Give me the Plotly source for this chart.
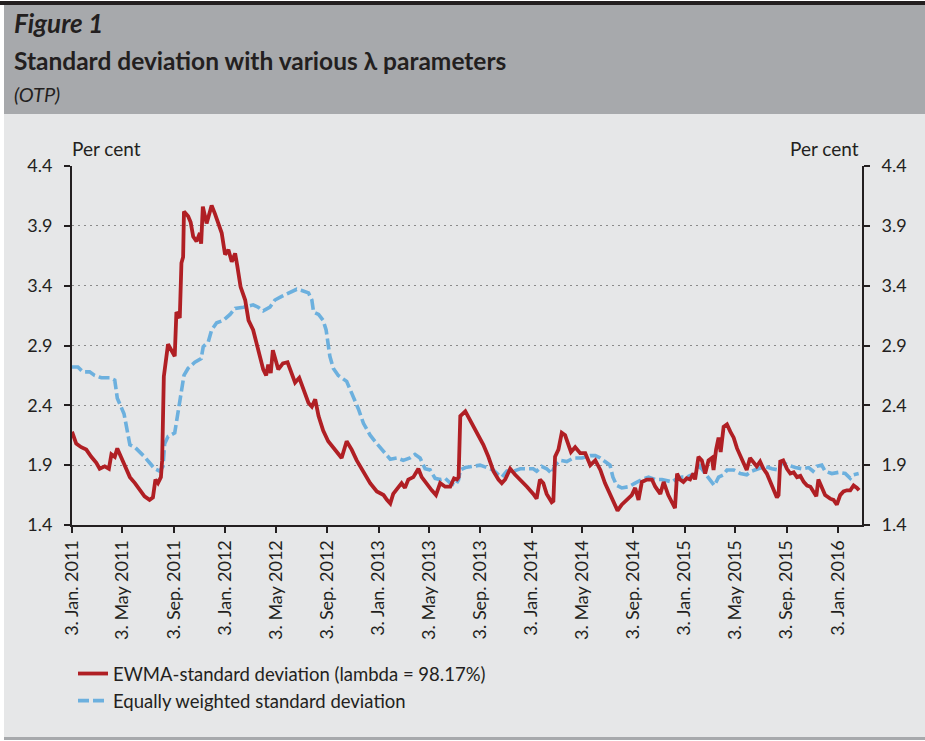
import pandas as pd
import plotly.graph_objects as go

# ---------------- data ----------------
start_date = "2011-01-03"

# EWMA standard deviation (days since 3 Jan 2011, per cent)
ewma_days = [0, 10, 22, 34, 46, 58, 66, 78, 88, 94,
             102, 108, 118, 130, 138, 150, 162, 173, 185, 193,
             199, 205, 212, 215, 219, 225, 229, 237, 245, 249,
             257, 261, 265, 267, 277, 283, 289, 297, 305, 308,
             312, 321, 333, 341, 349, 357, 365, 373, 381, 389,
             394, 402, 413, 421, 432, 444, 456, 463, 468, 474,
             479, 492, 503, 514, 522, 532, 542, 552, 564, 572,
             580, 588, 599, 611, 623, 635, 643, 655, 667, 679,
             695, 711, 727, 743, 751, 759, 766, 778, 786, 794,
             802, 814, 826, 834, 842, 850, 858, 868, 878, 890,
             902, 911, 918, 922, 926, 938, 949, 965, 981, 993,
             1005, 1017, 1025, 1033, 1045, 1057, 1069, 1085, 1100, 1108,
             1116, 1124, 1132, 1144, 1148, 1152, 1160, 1168, 1176, 1184,
             1190, 1200, 1212, 1224, 1236, 1248, 1260, 1271, 1283, 1293,
             1301, 1311, 1323, 1335, 1343, 1351, 1359, 1371, 1383, 1391,
             1403, 1411, 1422, 1433, 1438, 1443, 1450, 1458, 1466, 1474,
             1482, 1486, 1494, 1502, 1510, 1518, 1526, 1530, 1536, 1542,
             1547, 1554, 1562, 1570, 1578, 1586, 1594, 1601, 1609, 1617,
             1625, 1633, 1641, 1649, 1657, 1665, 1673, 1681, 1685, 1689,
             1696, 1705, 1713, 1721, 1729, 1737, 1745, 1753, 1761, 1769,
             1775, 1780, 1788, 1796, 1808, 1816, 1824, 1832, 1840, 1848,
             1856, 1864, 1872, 1877]
ewma_vals = [2.18, 2.08, 2.05, 2.03, 1.97, 1.92, 1.87, 1.89, 1.87, 1.99,
             1.97, 2.04, 1.96, 1.87, 1.80, 1.75, 1.69, 1.64, 1.61, 1.63,
             1.78, 1.75, 1.80, 1.94, 2.64, 2.83, 2.91, 2.86, 2.81, 3.18,
             3.13, 3.59, 3.64, 4.02, 3.98, 3.93, 3.81, 3.77, 3.84, 3.75,
             4.06, 3.92, 4.07, 4.00, 3.93, 3.84, 3.66, 3.70, 3.60, 3.67,
             3.57, 3.39, 3.28, 3.11, 3.03, 2.86, 2.70, 2.65, 2.74, 2.67,
             2.86, 2.70, 2.75, 2.76, 2.68, 2.59, 2.63, 2.53, 2.42, 2.39,
             2.45, 2.31, 2.19, 2.10, 2.05, 1.99, 1.96, 2.10, 2.03, 1.94,
             1.85, 1.75, 1.68, 1.65, 1.61, 1.58, 1.66, 1.71, 1.75, 1.71,
             1.78, 1.80, 1.87, 1.80, 1.76, 1.72, 1.69, 1.65, 1.75, 1.72,
             1.72, 1.79, 1.78, 1.80, 2.31, 2.35, 2.28, 2.18, 2.07, 1.97,
             1.85, 1.78, 1.75, 1.78, 1.87, 1.82, 1.78, 1.72, 1.66, 1.62,
             1.78, 1.75, 1.66, 1.59, 1.60, 1.97, 2.03, 2.17, 2.15, 2.07,
             2.01, 2.05, 2.00, 2.00, 1.90, 1.94, 1.86, 1.75, 1.66, 1.58,
             1.52, 1.57, 1.61, 1.65, 1.71, 1.61, 1.76, 1.78, 1.78, 1.72,
             1.66, 1.76, 1.65, 1.57, 1.54, 1.83, 1.78, 1.76, 1.79, 1.78,
             1.83, 1.78, 1.97, 1.94, 1.83, 1.94, 1.96, 1.86, 2.03, 2.13,
             2.01, 2.22, 2.24, 2.18, 2.13, 2.04, 1.97, 1.92, 1.86, 1.96,
             1.93, 1.89, 1.93, 1.87, 1.83, 1.76, 1.68, 1.63, 1.65, 1.93,
             1.94, 1.87, 1.83, 1.84, 1.80, 1.81, 1.76, 1.73, 1.72, 1.68,
             1.64, 1.78, 1.71, 1.65, 1.62, 1.61, 1.57, 1.65, 1.68, 1.69,
             1.69, 1.73, 1.71, 1.69]

# Equally weighted standard deviation
eq_days = [0, 14, 26, 42, 54, 70, 90, 102, 108, 118,
           124, 130, 135, 138, 150, 162, 173, 185, 197, 209,
           217, 221, 229, 245, 251, 257, 262, 267, 277, 293,
           308, 313, 325, 333, 345, 361, 377, 389, 409, 432,
           444, 456, 472, 484, 500, 516, 536, 548, 564, 572,
           576, 588, 599, 606, 611, 615, 623, 635, 655, 671,
           683, 695, 711, 727, 743, 759, 775, 790, 806, 818,
           830, 842, 854, 866, 878, 890, 902, 914, 922, 926,
           938, 954, 973, 989, 1005, 1017, 1025, 1037, 1053, 1069,
           1085, 1100, 1108, 1120, 1132, 1144, 1152, 1164, 1180, 1196,
           1216, 1236, 1248, 1260, 1271, 1283, 1290, 1299, 1311, 1327,
           1343, 1359, 1375, 1391, 1407, 1419, 1431, 1443, 1455, 1466,
           1478, 1486, 1494, 1498, 1510, 1522, 1532, 1542, 1554, 1562,
           1578, 1594, 1609, 1621, 1637, 1653, 1669, 1685, 1693, 1709,
           1725, 1741, 1757, 1767, 1776, 1788, 1796, 1812, 1828, 1844,
           1856, 1864, 1876]
eq_vals = [2.72, 2.72, 2.68, 2.68, 2.65, 2.63, 2.63, 2.61, 2.46, 2.38,
           2.33, 2.22, 2.14, 2.07, 2.05, 2.01, 1.97, 1.92, 1.87, 1.85,
           1.89, 2.08, 2.14, 2.17, 2.31, 2.42, 2.53, 2.65, 2.71, 2.76,
           2.79, 2.89, 2.93, 3.03, 3.09, 3.11, 3.16, 3.21, 3.22, 3.24,
           3.22, 3.19, 3.22, 3.28, 3.31, 3.34, 3.37, 3.36, 3.34, 3.28,
           3.18, 3.16, 3.11, 3.03, 2.92, 2.81, 2.71, 2.65, 2.60, 2.47,
           2.37, 2.25, 2.15, 2.08, 2.01, 1.95, 1.96, 1.94, 1.96, 1.99,
           1.96, 1.87, 1.86, 1.79, 1.78, 1.79, 1.75, 1.73, 1.78, 1.86,
           1.88, 1.89, 1.90, 1.88, 1.86, 1.82, 1.80, 1.85, 1.85, 1.87,
           1.87, 1.87, 1.85, 1.89, 1.87, 1.83, 1.90, 1.94, 1.93, 1.96,
           1.96, 1.98, 1.98, 1.96, 1.93, 1.90, 1.80, 1.73, 1.71, 1.72,
           1.75, 1.78, 1.80, 1.78, 1.78, 1.77, 1.76, 1.79, 1.80, 1.80,
           1.82, 1.82, 1.86, 1.89, 1.83, 1.78, 1.73, 1.80, 1.82, 1.86,
           1.86, 1.83, 1.82, 1.85, 1.87, 1.89, 1.87, 1.86, 1.92, 1.90,
           1.88, 1.87, 1.88, 1.85, 1.89, 1.90, 1.85, 1.83, 1.84, 1.83,
           1.79, 1.82, 1.83]

tick_dates = ["2011-01-03", "2011-05-03", "2011-09-03", "2012-01-03", "2012-05-03",
              "2012-09-03", "2013-01-03", "2013-05-03", "2013-09-03", "2014-01-03",
              "2014-05-03", "2014-09-03", "2015-01-03", "2015-05-03", "2015-09-03",
              "2016-01-03"]
tick_labels = ["3. Jan. 2011", "3. May 2011", "3. Sep. 2011", "3. Jan. 2012", "3. May 2012",
               "3. Sep. 2012", "3. Jan. 2013", "3. May 2013", "3. Sep. 2013", "3. Jan. 2014",
               "3. May 2014", "3. Sep. 2014", "3. Jan. 2015", "3. May 2015", "3. Sep. 2015",
               "3. Jan. 2016"]
y_ticks = [1.4, 1.9, 2.4, 2.9, 3.4, 3.9, 4.4]
x_end = "2016-03-01"

series_names = ["EWMA-standard deviation (lambda = 98.17%)", "Equally weighted standard deviation"]

# ---------------- figure ----------------
W, H = 925, 741
L, R, T, B = 72, 63, 166, 216
PW, PH = W - L - R, H - T - B


def px(x):
    return (x - L) / PW


def py(y):
    return (H - B - y) / PH


t0 = pd.Timestamp(start_date)
ewma_x = t0 + pd.to_timedelta(ewma_days, unit="D")
eq_x = t0 + pd.to_timedelta(eq_days, unit="D")

RED = "#b01f24"
BLUE = "#6cb0de"
AX = "#231f20"
FONT = "Lato, Open Sans, sans-serif"

fig = go.Figure()
fig.add_trace(go.Scatter(x=eq_x, y=eq_vals, mode="lines", name=series_names[1],
                         line=dict(color=BLUE, width=3.6, dash="11px,4px"),
                         legendrank=2, yaxis="y"))
fig.add_trace(go.Scatter(x=ewma_x, y=ewma_vals, mode="lines", name=series_names[0],
                         line=dict(color=RED, width=3.8),
                         legendrank=1, yaxis="y2"))

yax_common = dict(range=[1.4, 4.4], tickvals=y_ticks, ticktext=[f"{v:.1f}" for v in y_ticks],
                  showline=True, linecolor=AX, linewidth=2, ticks="outside", ticklen=6,
                  tickwidth=2, tickcolor=AX, zeroline=False,
                  tickfont=dict(family=FONT, size=18, color="#231f20"),
                  ticklabelstandoff=8)

fig.update_layout(
    width=W, height=H,
    margin=dict(l=L, r=R, t=T, b=B),
    paper_bgcolor="white",
    plot_bgcolor="rgba(0,0,0,0)",
    showlegend=True,
    legend=dict(x=px(73), y=py(655), xanchor="left", yanchor="top",
                bgcolor="rgba(0,0,0,0)", font=dict(family=FONT, size=18.5, color="#231f20"),
                tracegroupgap=0, itemwidth=30),
    xaxis=dict(type="date", range=[start_date, x_end], tickvals=tick_dates, ticktext=tick_labels,
               tickangle=-90, showline=True, linecolor=AX, linewidth=2, ticks="outside",
               ticklen=6, tickwidth=2, tickcolor=AX, showgrid=False, zeroline=False,
               tickfont=dict(family=FONT, size=18, color="#231f20")),
    yaxis=dict(**yax_common, side="left", showgrid=True, gridcolor="#8a8a8a", gridwidth=1,
               griddash="2px,4px"),
    yaxis2=dict(**yax_common, side="right", overlaying="y", anchor="x", showgrid=False),
)

# background panels
shapes = [
    dict(type="rect", xref="paper", yref="paper", x0=px(4), x1=px(W), y0=py(114), y1=py(5),
         fillcolor="#a7a9ac", line=dict(width=0), layer="below"),
    dict(type="rect", xref="paper", yref="paper", x0=px(4), x1=px(W), y0=py(737), y1=py(114),
         fillcolor="#e6e7e8", line=dict(width=0), layer="below"),
    dict(type="rect", xref="paper", yref="paper", x0=px(0), x1=px(W), y0=py(5), y1=py(1),
         fillcolor="#231f20", line=dict(width=0), layer="below"),
    dict(type="rect", xref="paper", yref="paper", x0=px(4), x1=px(W), y0=py(740), y1=py(737),
         fillcolor="#a7a9ac", line=dict(width=0), layer="below"),
]
fig.update_layout(shapes=shapes)

ann = [
    dict(text="<b><i>Figure 1</i></b>", x=px(12), y=py(23), size=26),
    dict(text="<b>Standard deviation with various λ parameters</b>", x=px(12), y=py(60), size=24.5),
    dict(text="<i>(OTP)</i>", x=px(12), y=py(94), size=20),
]
for a in ann:
    fig.add_annotation(text=a["text"], x=a["x"], y=a["y"], xref="paper", yref="paper",
                       xanchor="left", yanchor="middle", showarrow=False,
                       font=dict(family=FONT, size=a["size"], color="#231f20"))

fig.add_annotation(text="Per cent", x=px(70), y=py(148), xref="paper", yref="paper",
                   xanchor="left", yanchor="middle", showarrow=False,
                   font=dict(family=FONT, size=19, color="#231f20"))
fig.add_annotation(text="Per cent", x=px(861), y=py(148), xref="paper", yref="paper",
                   xanchor="right", yanchor="middle", showarrow=False,
                   font=dict(family=FONT, size=19, color="#231f20"))

post = "document.body.style.margin = '0px';"
fig.write_html("out.html", post_script=post, config={"displayModeBar": False})
